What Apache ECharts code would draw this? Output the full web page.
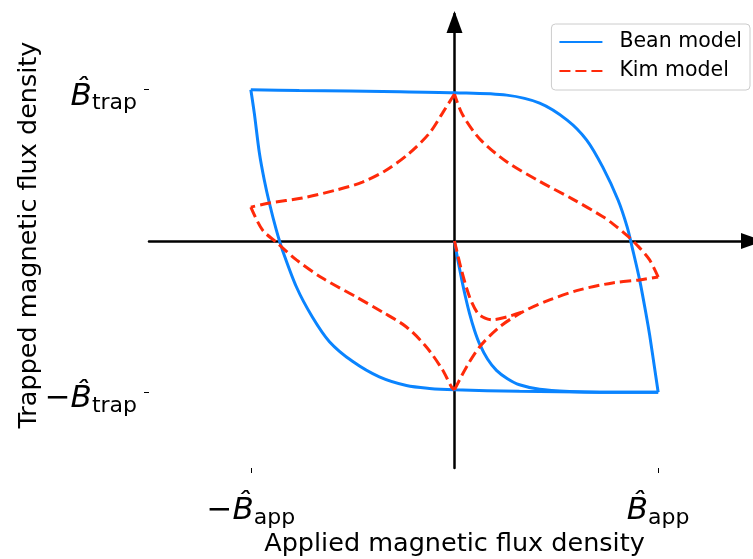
<!DOCTYPE html>
<html>
<head>
<meta charset="utf-8">
<script src="https://cdn.jsdelivr.net/npm/echarts@6/dist/echarts.min.js"></script>
<style>
  html, body { margin: 0; padding: 0; background: #ffffff; }
  #chart { width: 753px; height: 559px; }
</style>
</head>
<body>
<div id="chart"></div>
<script>
// Applied flux density in units of B̂_app (x), trapped flux density in units of B̂_trap (y)

// Bean model: virgin curve, then the two branches of the hysteresis loop
const beanVirgin = [[0, 0], [0.015, -0.115], [0.034, -0.245], [0.054, -0.370], [0.074, -0.480], [0.098, -0.590], [0.123, -0.680], [0.162, -0.780], [0.206, -0.855], [0.260, -0.910], [0.319, -0.950], [0.418, -0.980], [0.565, -0.995], [0.713, -1.0], [1.0, -1.0]];
const beanRising = [[1, -1], [0.983, -0.845], [0.958, -0.62], [0.943, -0.502], [0.909, -0.257], [0.872, -0.040], [0.848, 0.092], [0.803, 0.271], [0.728, 0.488], [0.649, 0.667], [0.553, 0.799], [0.418, 0.911], [0.256, 0.964], [0, 0.980], [-0.270, 0.987], [-0.762, 0.994], [-1, 1]];
const beanFalling = [[-1, 1], [-0.983, 0.845], [-0.958, 0.581], [-0.934, 0.403], [-0.909, 0.251], [-0.875, 0.073], [-0.845, -0.059], [-0.776, -0.304], [-0.698, -0.502], [-0.614, -0.665], [-0.501, -0.795], [-0.369, -0.898], [-0.236, -0.955], [-0.123, -0.974], [0, -0.983], [0.319, -0.993], [0.713, -0.999], [1, -1]];

// Kim model: virgin curve and the four branches of the loop
const kimVirgin = [[0, 0], [0.034, -0.191], [0.074, -0.370], [0.113, -0.475], [0.150, -0.510], [0.187, -0.521], [0.256, -0.502], [0.334, -0.469]];
const kimRightLower = [[0, -0.983], [0.059, -0.832], [0.123, -0.700], [0.221, -0.568], [0.334, -0.469], [0.467, -0.389], [0.614, -0.323], [0.776, -0.277], [0.909, -0.257], [1, -0.238]];
const kimRightUpper = [[1, -0.238], [0.958, -0.125], [0.899, -0.031], [0.845, 0.039], [0.776, 0.115], [0.727, 0.162], [0.580, 0.277], [0.418, 0.394], [0.256, 0.524], [0.123, 0.676], [0.039, 0.836], [0, 0.970]];
const kimLeftUpper = [[0, 0.970], [-0.010, 0.950], [-0.059, 0.845], [-0.123, 0.713], [-0.221, 0.581], [-0.334, 0.469], [-0.452, 0.389], [-0.580, 0.337], [-0.747, 0.284], [-0.909, 0.251], [-1, 0.224]];
const kimLeftLower = [[-1, 0.224], [-0.943, 0.073], [-0.870, -0.013], [-0.776, -0.125], [-0.649, -0.245], [-0.482, -0.370], [-0.354, -0.469], [-0.236, -0.568], [-0.138, -0.700], [-0.059, -0.851], [-0.015, -0.964], [0, -0.983]];

// Tick positions and their labels
const xTickValues = [-1, 1];
const xTickLabels = ['{m|\u2212}{b|B\u0302}{s|app}', '{b|B\u0302}{s|app}'];
const yTickValues = [-1, 1];
const yTickLabels = ['{m|\u2212}{b|B\u0302}{s|trap}', '{b|B\u0302}{s|trap}'];

const FONT = 'DejaVu Sans';
const BLUE = '#0a84ff';
const RED = '#ff2a0a';

const tickRich = {
  b: { fontFamily: FONT, fontStyle: 'italic', fontSize: 31, lineHeight: 38, color: '#000' },
  m: { fontFamily: FONT, fontSize: 31, lineHeight: 38, color: '#000' },
  s: { fontFamily: FONT, fontSize: 22, color: '#000', padding: [14, 0, 0, 0] }
};

function labelFor(values, labels) {
  return function (v) {
    const i = values.findIndex(t => Math.abs(t - v) < 1e-9);
    return i >= 0 ? labels[i] : '';
  };
}

function branch(name, data, color, dashed) {
  return {
    name: name,
    type: 'line',
    xAxisIndex: 0,
    yAxisIndex: 0,
    data: data,
    symbol: 'none',
    smooth: 0.3,
    silent: true,
    animation: false,
    z: 3,
    lineStyle: { color: color, width: 3, type: dashed ? [11, 5] : 'solid', cap: 'butt' },
    itemStyle: { color: color }
  };
}

function arrowAxis() {
  return {
    type: 'value', min: -1.5, max: 1.5,
    axisLine: {
      show: true, onZero: true, onZeroAxisIndex: 0,
      symbol: ['none', 'triangle'], symbolSize: [16, 22], symbolOffset: [0, -8],
      lineStyle: { color: '#000', width: 2.5 }
    },
    axisTick: { show: false }, axisLabel: { show: false }, splitLine: { show: false }
  };
}

const chart = echarts.init(document.getElementById('chart'), null, { renderer: 'canvas' });

chart.setOption({
  animation: false,
  backgroundColor: '#ffffff',
  grid: { left: 149, right: -7, top: 14, bottom: 91, outerBoundsMode: 'none', containLabel: false },
  legend: {
    data: ['Bean model', 'Kim model'],
    orient: 'vertical',
    right: 3,
    top: 24,
    padding: [7, 8, 8, 7],
    itemGap: 7,
    itemWidth: 43,
    itemHeight: 14,
    itemStyle: { opacity: 0 },
    backgroundColor: 'rgba(255,255,255,0.8)',
    borderColor: '#cccccc',
    borderWidth: 1,
    borderRadius: 4,
    textStyle: { fontFamily: FONT, fontSize: 20.5, color: '#000', lineHeight: 22, padding: [0, 0, 0, 12] }
  },
  xAxis: [
    {
      type: 'value', min: -1.5, max: 1.5, position: 'bottom',
      name: 'Applied magnetic flux density', nameLocation: 'middle', nameGap: 63, nameMoveOverlap: false,
      nameTextStyle: { fontFamily: FONT, fontSize: 25.5, color: '#000' },
      axisLine: { show: false, onZero: false },
      axisTick: { show: true, length: 5, inside: false, customValues: xTickValues, lineStyle: { color: '#000', width: 1 } },
      axisLabel: { show: true, margin: 24, customValues: xTickValues, formatter: labelFor(xTickValues, xTickLabels), rich: tickRich },
      splitLine: { show: false }
    },
    arrowAxis()
  ],
  yAxis: [
    {
      type: 'value', min: -1.5, max: 1.5, position: 'left',
      name: 'Trapped magnetic flux density', nameLocation: 'middle', nameGap: 107, nameMoveOverlap: false,
      nameTextStyle: { fontFamily: FONT, fontSize: 25.5, color: '#000', padding: [0, 0, 0, 12] },
      axisLine: { show: false, onZero: false },
      axisTick: { show: true, length: 5, inside: false, customValues: yTickValues, lineStyle: { color: '#000', width: 1 } },
      axisLabel: { show: true, margin: 12, customValues: yTickValues, formatter: labelFor(yTickValues, yTickLabels), rich: tickRich, padding: [14, 0, 0, 0] },
      splitLine: { show: false }
    },
    arrowAxis()
  ],
  series: [
    branch('Bean model', beanVirgin, BLUE, false),
    branch('Bean model', beanRising, BLUE, false),
    branch('Bean model', beanFalling, BLUE, false),
    branch('Kim model', kimVirgin, RED, true),
    branch('Kim model', kimRightLower, RED, true),
    branch('Kim model', kimRightUpper, RED, true),
    branch('Kim model', kimLeftUpper, RED, true),
    branch('Kim model', kimLeftLower, RED, true)
  ]
});
</script>
</body>
</html>
